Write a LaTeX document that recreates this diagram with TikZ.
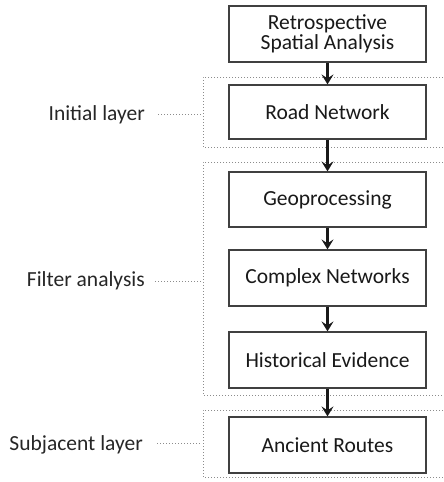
\documentclass[tikz,border=0pt]{standalone}
\usepackage{fontspec}
\setmainfont{Carlito}
\usetikzlibrary{arrows.meta}
\begin{document}
\begin{tikzpicture}[x=1pt,y=-1pt,
  stepbox/.style={draw=black!75,line width=1.2pt,fill=white,minimum width=197pt,
    minimum height=56pt,inner sep=0pt,align=center,font=\fontsize{21.5}{23}\selectfont,text=black!90},
  layerlabel/.style={anchor=east,inner sep=0pt,font=\fontsize{21.5}{23}\selectfont,text=black!85},
  group/.style={draw=black!45,line width=0.9pt,dash pattern=on 1pt off 2pt},
  leader/.style={draw=black!45,line width=0.9pt,dash pattern=on 1pt off 2pt},
  flow/.style={draw=black!90,line width=2.4pt,-{Stealth[length=10pt,width=12pt,inset=4pt]}}]
\useasboundingbox (0,0) rectangle (444,482);

% layer frames (open to the right)
\draw[group] (470,77) -- (203,77) -- (203,147) -- (470,147);
\draw[group] (470,162) -- (203,162) -- (203,395) -- (470,395);
\draw[group] (470,410) -- (203,410) -- (203,477) -- (470,477);

% process steps
\node[stepbox] (rsa) at (327.5,34) {Retrospective\\[-3pt]Spatial Analysis};
\node[stepbox,minimum height=54pt] (road) at (327.5,112) {Road Network};
\node[stepbox,minimum height=55pt] (geo) at (327.5,199.5) {Geoprocessing};
\node[stepbox,minimum height=56pt] (cn) at (327.5,278) {Complex Networks};
\node[stepbox,minimum height=56pt] (hist) at (327.5,360) {Historical Evidence};
\node[stepbox,minimum height=56pt] (anc) at (327.5,445) {Ancient Routes};

% flow between steps
\draw[flow] (rsa) -- (road);
\draw[flow] (road) -- (geo);
\draw[flow] (geo) -- (cn);
\draw[flow] (cn) -- (hist);
\draw[flow] (hist) -- (anc);

% layer labels with dotted leaders
\node[layerlabel] (l1) at (145,115) {Initial layer};
\node[layerlabel] (l2) at (145,281) {Filter analysis};
\node[layerlabel] (l3) at (143,445) {Subjacent layer};
\coordinate (e1) at (202,114);
\coordinate (e2) at (202,281);
\coordinate (e3) at (202,443);
\draw[leader] ([xshift=13pt]l1.east |- e1) -- (e1);
\draw[leader] ([xshift=10pt]l2.east |- e2) -- (e2);
\draw[leader] ([xshift=14pt]l3.east |- e3) -- (e3);
\end{tikzpicture}
\end{document}
